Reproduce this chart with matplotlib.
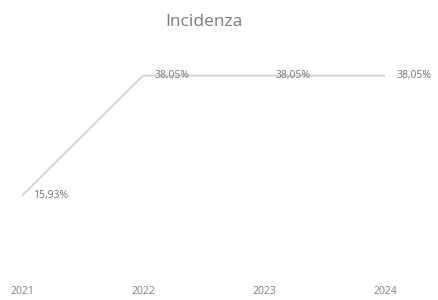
import matplotlib.pyplot as plt

# data
years = ["2021", "2022", "2023", "2024"]
incidenza = [15.93, 38.05, 38.05, 38.05]
labels = ["15,93%", "38,05%", "38,05%", "38,05%"]

plt.rcParams['font.family'] = ['Open Sans', 'DejaVu Sans']

W, H = 439, 300
fig = plt.figure(figsize=(W / 100, H / 100), dpi=100)
# axes placed in pixel terms: x 22..385, y bottom at 282 px from top
ax = fig.add_axes([22 / W, 18 / H, (385 - 22) / W, 244 / H])

x = list(range(len(years)))
ax.plot(x, incidenza, color='#d4d4d4', lw=1.4, solid_capstyle='round')

for xi, yi, lab in zip(x, incidenza, labels):
    ax.annotate(lab, (xi, yi), xytext=(8, 0), textcoords='offset points',
                ha='left', va='center', fontsize=7.5, color='#767676')

ax.set_xlim(0, 3)
ax.set_ylim(0, 45)
ax.set_xticks(x)
ax.set_xticklabels(years, fontsize=7.5, color='#808080')
ax.tick_params(axis='x', length=0, pad=3)
ax.set_yticks([])
for sp in ax.spines.values():
    sp.set_visible(False)

fig.text(204 / W, 1 - 22 / H, "Incidenza", ha='center', va='center',
         fontsize=12.5, color='#7a7a7a')

fig.savefig('out.png', dpi=100)
